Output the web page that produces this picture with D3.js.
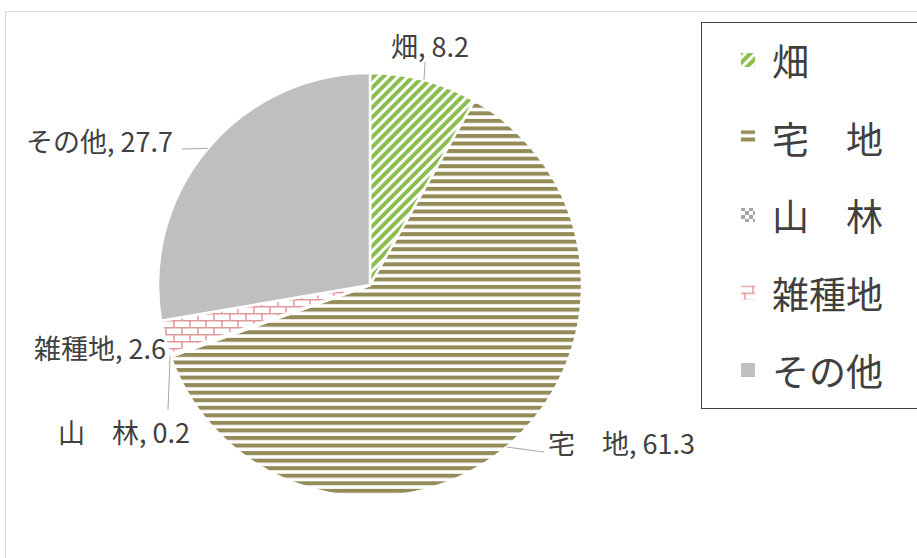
<!DOCTYPE html>
<html>
<head>
<meta charset="utf-8">
<script src="https://cdn.jsdelivr.net/npm/d3@7"></script>
<style>
  html, body { margin: 0; padding: 0; background: #fff; overflow: hidden; }
  text { font-family: "Noto Sans CJK JP", "Noto Sans", sans-serif; fill: #404040; }
</style>
</head>
<body>
<div id="chart"></div>
<script>
var categories = ["畑", "宅　地", "山　林", "雑種地", "その他"];
var values = [8.2, 61.3, 0.2, 2.6, 27.7];
var fills = ["url(#p-hatake)", "url(#p-takuchi)", "url(#p-sanrin)", "url(#p-zasshu)", "#bfbfbf"];

// where each data label sits (text anchor + start of its leader line)
var labelPos = [
    { x: 430, y: 45, anchor: "middle", lx: 425, ly: 62 },
    { x: 548, y: 442, anchor: "start", lx: 544, ly: 452 },
    { x: 190, y: 431, anchor: "end", lx: 168, ly: 410 },
    { x: 166, y: 347, anchor: "end", lx: null, ly: null },
    { x: 173, y: 140, anchor: "end", lx: 182, ly: 149 }
];

var width = 917, height = 558,
    cx = 370, cy = 285, radius = 212;

var svg = d3.select("#chart").append("svg")
    .attr("width", width)
    .attr("height", height);

var defs = svg.append("defs");

// 畑 : wide upward diagonal
var p1 = defs.append("pattern").attr("id", "p-hatake")
    .attr("patternUnits", "userSpaceOnUse")
    .attr("width", 7).attr("height", 7)
    .attr("patternTransform", "rotate(45)");
p1.append("rect").attr("width", 7).attr("height", 7).attr("fill", "#fff");
p1.append("rect").attr("width", 4).attr("height", 7).attr("fill", "#8cbd50");

// 宅地 : dark horizontal
var p2 = defs.append("pattern").attr("id", "p-takuchi")
    .attr("patternUnits", "userSpaceOnUse")
    .attr("width", 10).attr("height", 7.55);
p2.append("rect").attr("width", 10).attr("height", 7.55).attr("fill", "#fff");
p2.append("rect").attr("width", 10).attr("height", 4).attr("fill", "#938b58");

// 山林 : checkerboard
var p3 = defs.append("pattern").attr("id", "p-sanrin")
    .attr("patternUnits", "userSpaceOnUse")
    .attr("width", 8).attr("height", 8);
p3.append("rect").attr("width", 8).attr("height", 8).attr("fill", "#fff");
p3.append("rect").attr("width", 4).attr("height", 4).attr("fill", "#a6a6a6");
p3.append("rect").attr("x", 4).attr("y", 4).attr("width", 4).attr("height", 4).attr("fill", "#a6a6a6");

// 雑種地 : horizontal brick
var p4 = defs.append("pattern").attr("id", "p-zasshu")
    .attr("patternUnits", "userSpaceOnUse")
    .attr("width", 16).attr("height", 14);
p4.append("rect").attr("width", 16).attr("height", 14).attr("fill", "#fff");
p4.append("path")
    .attr("d", "M0,0.75H16M0,7.75H16M4,0V7M12,7V14")
    .attr("stroke", "#e09a9a").attr("stroke-width", 1.5).attr("fill", "none");

// chart area border
svg.append("rect")
    .attr("x", 5.5).attr("y", 11.5)
    .attr("width", 1000).attr("height", 1000)
    .attr("fill", "#fff")
    .attr("stroke", "#d9d9d9");

var pie = d3.pie().sort(null).value(function(d) { return d; });
var arcs = pie(values);

var arc = d3.arc().innerRadius(0).outerRadius(radius);
var edge = d3.arc().innerRadius(radius).outerRadius(radius);

var g = svg.append("g").attr("transform", "translate(" + cx + "," + cy + ")");

g.selectAll("path.slice")
    .data(arcs)
    .enter().append("path")
    .attr("class", "slice")
    .attr("d", arc)
    .attr("fill", function(d, i) { return fills[i]; })
    .attr("stroke", "#fff")
    .attr("stroke-width", 2.5)
    .attr("stroke-linejoin", "round");

// leader lines
arcs.forEach(function(d, i) {
    var p = labelPos[i];
    if (p.lx === null) return;
    var c = edge.centroid(d);
    svg.append("line")
        .attr("x1", p.lx).attr("y1", p.ly)
        .attr("x2", cx + c[0]).attr("y2", cy + c[1])
        .attr("stroke", "#a6a6a6")
        .attr("stroke-width", 1);
});

// data labels
svg.selectAll("text.label")
    .data(arcs)
    .enter().append("text")
    .attr("class", "label")
    .attr("x", function(d, i) { return labelPos[i].x; })
    .attr("y", function(d, i) { return labelPos[i].y; })
    .attr("text-anchor", function(d, i) { return labelPos[i].anchor; })
    .attr("dominant-baseline", "central")
    .style("font-size", "27px")
    .text(function(d, i) { return categories[i] + ", " + values[i]; });

// legend
svg.append("rect")
    .attr("x", 701.5).attr("y", 22.5)
    .attr("width", 300).attr("height", 386)
    .attr("fill", "#fff")
    .attr("stroke", "#404040");

var legend = svg.selectAll("g.legend")
    .data(categories)
    .enter().append("g")
    .attr("class", "legend")
    .attr("transform", function(d, i) { return "translate(741," + (60 + i * 77.5) + ")"; });

legend.append("rect")
    .attr("x", 0).attr("y", -7)
    .attr("width", 14).attr("height", 14)
    .attr("fill", function(d, i) { return fills[i]; });

legend.append("text")
    .attr("x", 31).attr("y", 0)
    .attr("dominant-baseline", "central")
    .style("font-size", "37px")
    .text(function(d) { return d; });
</script>
</body>
</html>
